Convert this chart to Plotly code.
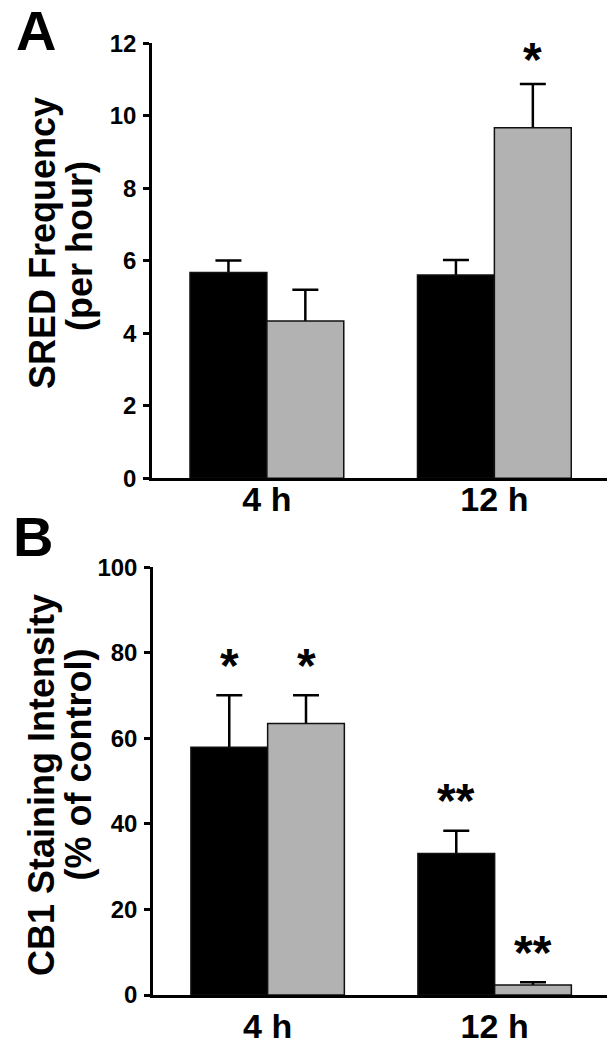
import plotly.graph_objects as go

# ---------------- data ----------------
categories = ["4 h", "12 h"]

sred_black = [5.68, 5.61]
sred_black_err = [0.33, 0.41]
sred_gray = [4.34, 9.67]
sred_gray_err = [0.86, 1.21]
sred_stars_black = ["", ""]
sred_stars_gray = ["", "*"]

cb1_black = [57.9, 33.1]
cb1_black_err = [12.2, 5.3]
cb1_gray = [63.5, 2.35]
cb1_gray_err = [6.6, 0.62]
cb1_stars_black = ["*", "**"]
cb1_stars_gray = ["*", "**"]

yticks_a = [0, 2, 4, 6, 8, 10, 12]
yticks_b = [0, 20, 40, 60, 80, 100]

# ---------------- style ----------------
W, H = 611, 1050
FONT = "Liberation Sans, Arial, sans-serif"
BLACK = "#000000"
GRAY = "#b2b2b2"
BW = 0.338  # bar width in category units

pos = list(range(len(categories)))


def px(x):
    return x / W


def py(y):
    return 1 - y / H


fig = go.Figure()


def add_pair(black, berr, gray, gerr, xa, ya):
    for vals, err, col, off in [(black, berr, BLACK, -BW), (gray, gerr, GRAY, 0.0)]:
        # error bars (drawn first; the lower half is hidden behind the bar)
        fig.add_trace(go.Bar(
            x=pos, y=vals, width=BW, offset=off,
            marker=dict(color="rgba(0,0,0,0)", line=dict(width=0)),
            error_y=dict(type="data", array=err, color="black",
                         thickness=2.5, width=13),
            xaxis=xa, yaxis=ya, showlegend=False, hoverinfo="skip",
        ))
        # visible bar on top
        fig.add_trace(go.Bar(
            x=pos, y=vals, width=BW, offset=off,
            marker=dict(color=col, line=dict(color="#111111", width=1.5)),
            xaxis=xa, yaxis=ya, showlegend=False, hoverinfo="skip",
        ))


add_pair(sred_black, sred_black_err, sred_gray, sred_gray_err, "x", "y")
add_pair(cb1_black, cb1_black_err, cb1_gray, cb1_gray_err, "x2", "y2")

annotations = []


def add_stars(vals, errs, stars, off, xref, yref, shift):
    for i, (v, e, s) in enumerate(zip(vals, errs, stars)):
        if s:
            annotations.append(dict(
                x=pos[i] + off + BW / 2, y=v + e, xref=xref, yref=yref,
                text=s, showarrow=False, yanchor="middle", xanchor="center",
                yshift=shift, font=dict(family=FONT, size=48, color="black", weight="bold"),
            ))


add_stars(sred_black, sred_black_err, sred_stars_black, -BW, "x", "y", 24)
add_stars(sred_gray, sred_gray_err, sred_stars_gray, 0.0, "x", "y", 24)
add_stars(cb1_black, cb1_black_err, cb1_stars_black, -BW, "x2", "y2", 30)
add_stars(cb1_gray, cb1_gray_err, cb1_stars_gray, 0.0, "x2", "y2", 30)

# panel letters
for letter, (lx, ly) in [("A", (36, 30)), ("B", (33, 536))]:
    annotations.append(dict(
        x=px(lx), y=py(ly), xref="paper", yref="paper", text=letter,
        showarrow=False, xanchor="center", yanchor="middle",
        font=dict(family=FONT, size=56, color="black", weight="bold"),
    ))

# axis titles (two lines each)
for txt, (tx, ty) in [("SRED Frequency", (42, 243)), ("(per hour)", (79, 246)),
                      ("CB1 Staining Intensity", (41, 785)), ("(% of control)", (77.5, 765))]:
    annotations.append(dict(
        x=px(tx), y=py(ty), xref="paper", yref="paper", text=txt, textangle=-90,
        showarrow=False, xanchor="center", yanchor="middle",
        font=dict(family=FONT, size=36, color="black", weight="bold"),
    ))

xcommon = dict(
    range=[-0.505, 1.495], tickvals=pos, ticktext=categories, ticks="",
    showline=True, linecolor="black", linewidth=2.5, showgrid=False,
    zeroline=False, automargin=False,
    tickfont=dict(family=FONT, size=34, color="black", weight="bold"),
)
ycommon = dict(
    ticks="outside", ticklen=6, tickwidth=2.5, tickcolor="black",
    showline=True, linecolor="black", linewidth=2.5, showgrid=False,
    zeroline=False, automargin=False, ticklabelstandoff=2,
    tickfont=dict(family=FONT, size=24, color="black", weight="bold"),
)

fig.update_layout(
    width=W, height=H, margin=dict(l=0, r=0, t=0, b=0),
    paper_bgcolor="white", plot_bgcolor="white", showlegend=False,
    template="none", barmode="overlay",
    xaxis=dict(domain=[px(152), px(607)], anchor="y", ticklabelstandoff=-11, **xcommon),
    yaxis=dict(domain=[py(478.3), py(43.3)], anchor="x", range=[0, 12],
               tickvals=yticks_a, **ycommon),
    xaxis2=dict(domain=[px(153), px(607)], anchor="y2", ticklabelstandoff=-1, **xcommon),
    yaxis2=dict(domain=[py(995), py(567.3)], anchor="x2", range=[0, 100],
                tickvals=yticks_b, **ycommon),
    annotations=annotations,
)

fig.write_html(
    "out.html",
    config={"displayModeBar": False},
    post_script="document.body.style.margin='0';document.body.style.padding='0';",
)
